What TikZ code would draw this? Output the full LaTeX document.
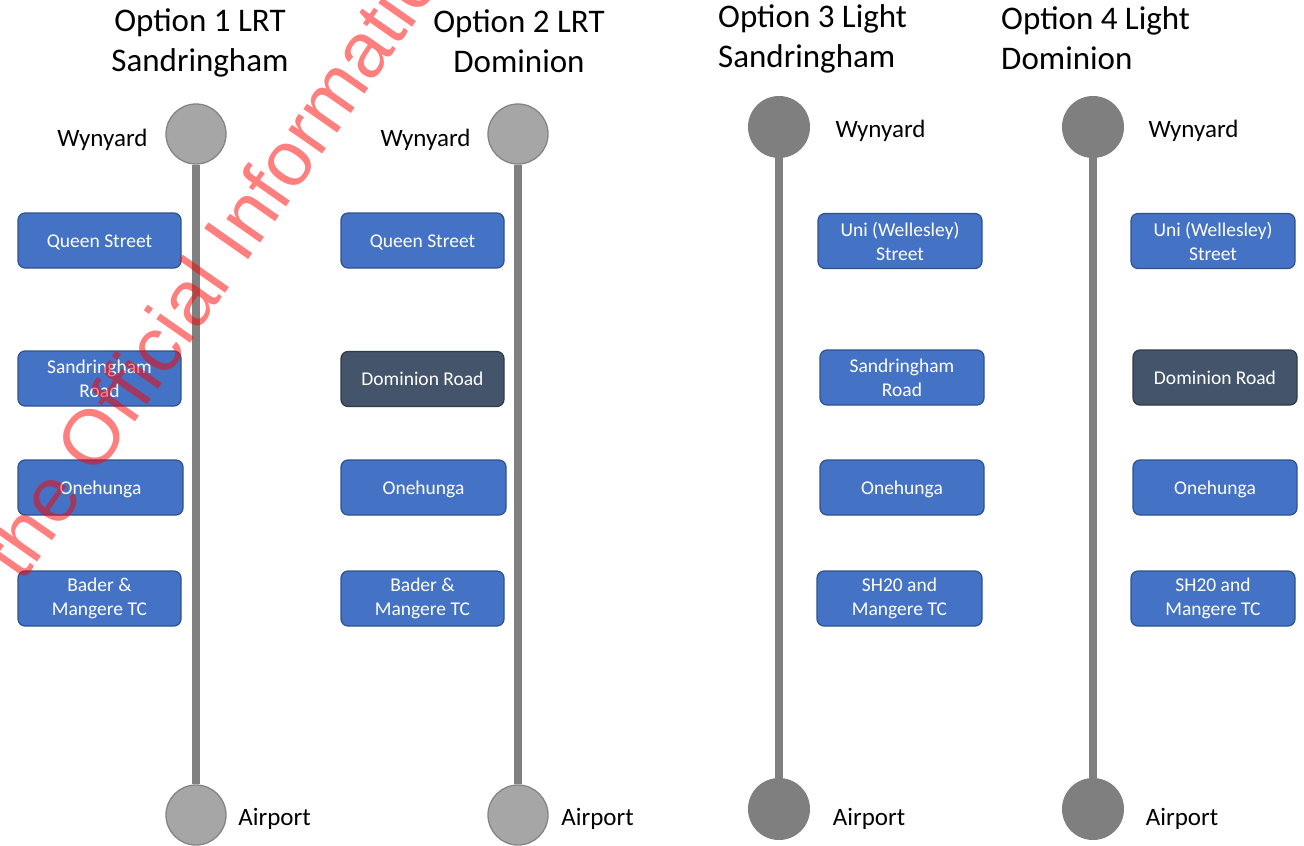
\documentclass[tikz,border=0pt]{standalone}
\usepackage{fontspec}
\setmainfont{Carlito}
\newfontfamily\markfont{Liberation Sans}
\definecolor{stationblue}{HTML}{4472C4}
\definecolor{stationblueedge}{HTML}{2F528F}
\definecolor{stationdark}{HTML}{44546A}
\definecolor{stationdarkedge}{HTML}{2E3A4A}
\definecolor{termlight}{HTML}{A6A6A6}
\definecolor{termlightedge}{HTML}{858585}
\definecolor{termdark}{HTML}{7F7F7F}
\definecolor{trackgrey}{HTML}{808080}
\tikzset{
  stationbox/.style={draw=stationblueedge, fill=stationblue, line width=1.2pt,
    rounded corners=7pt, minimum height=55pt, inner sep=2pt, align=center,
    text=white, font=\fontsize{19.5}{24}\selectfont},
  oneline/.style={text height=15pt, text depth=2pt},
  stationdarkbox/.style={stationbox, draw=stationdarkedge, fill=stationdark},
  termlightdot/.style={circle, draw=termlightedge, fill=termlight, line width=1.3pt,
    minimum size=60pt, inner sep=0pt},
  termdarkdot/.style={circle, draw=termdark, fill=termdark, line width=1pt,
    minimum size=61pt, inner sep=0pt},
  track/.style={draw=trackgrey, line width=8pt},
  endlabel/.style={font=\fontsize{25}{30}\selectfont, inner sep=0pt},
  optiontitle/.style={font=\fontsize{33}{40}\selectfont, inner sep=0pt},
  watermark/.style={font=\markfont\fontsize{78}{80}\selectfont, text=red,
    text opacity=0.5, inner sep=0pt}
}
\begin{document}
\begin{tikzpicture}[x=1pt, y=-1pt]
\useasboundingbox (0,0) rectangle (1304,846);
\clip (0,0) rectangle (1304,846);
\fill[white] (0,0) rectangle (1304,846);

% titles
\node[optiontitle, align=center] (t1) at (200,43) {Option 1 LRT\\Sandringham};
\node[optiontitle, align=center] (t2) at (519,41) {Option 2 LRT\\Dominion};
\node[optiontitle, align=left, anchor=west] (t3) at (718,38.5) {Option 3 Light\\Sandringham};
\node[optiontitle, align=left, anchor=west] (t4) at (1001,38.5) {Option 4 Light\\Dominion};

% termini
\node[termlightdot] (w1) at (196,134) {};
\node[termlightdot] (a1) at (196,815) {};
\node[termlightdot] (w2) at (518,134) {};
\node[termlightdot] (a2) at (518,815) {};
\node[termdarkdot] (w3) at (779,127) {};
\node[termdarkdot] (a3) at (779,809) {};
\node[termdarkdot] (w4) at (1093,127) {};
\node[termdarkdot] (a4) at (1093,809) {};

% tracks between the termini
\draw[track] (w1.south) -- (a1.north);
\draw[track] (w2.south) -- (a2.north);
\draw[track] (w3.south) -- (a3.north);
\draw[track] (w4.south) -- (a4.north);

% terminus labels
\node[endlabel] (lw1) at (102.5,140) {Wynyard};
\node[endlabel] (lw2) at (425.5,140) {Wynyard};
\node[endlabel] (lw3) at (880.5,131) {Wynyard};
\node[endlabel] (lw4) at (1193.5,131) {Wynyard};
\node[endlabel] (la1) at (274.5,819) {Airport};
\node[endlabel] (la2) at (597.5,819) {Airport};
\node[endlabel] (la3) at (869,819) {Airport};
\node[endlabel] (la4) at (1182,819) {Airport};

% option 1 stations
\node[stationbox, oneline, minimum width=163pt] (s11) at (99.5,240.5) {Queen Street};
\node[stationbox, minimum width=163pt] (s12) at (99.5,378.5) {Sandringham\\Road};
\node[stationbox, oneline, minimum width=165pt] (s13) at (100.5,487.5) {Onehunga};
\node[stationbox, minimum width=163pt] (s14) at (99.5,598.5) {Bader \&\\Mangere TC};

% option 2 stations
\node[stationbox, oneline, minimum width=163pt] (s21) at (422.5,240.5) {Queen Street};
\node[stationdarkbox, oneline, minimum width=163pt] (s22) at (422.5,379) {Dominion Road};
\node[stationbox, oneline, minimum width=165pt] (s23) at (423.5,487.5) {Onehunga};
\node[stationbox, minimum width=163pt] (s24) at (422.5,598.5) {Bader \&\\Mangere TC};

% option 3 stations
\node[stationbox, minimum width=164pt] (s31) at (900,241) {Uni (Wellesley)\\Street};
\node[stationbox, minimum width=164pt] (s32) at (902,377.5) {Sandringham\\Road};
\node[stationbox, oneline, minimum width=164pt] (s33) at (902,487.5) {Onehunga};
\node[stationbox, minimum width=165pt] (s34) at (899.5,598.5) {SH20 and\\Mangere TC};

% option 4 stations
\node[stationbox, minimum width=164pt] (s41) at (1213,241) {Uni (Wellesley)\\Street};
\node[stationdarkbox, oneline, minimum width=164pt] (s42) at (1215,377.5) {Dominion Road};
\node[stationbox, oneline, minimum width=164pt] (s43) at (1215,487.5) {Onehunga};
\node[stationbox, minimum width=164pt] (s44) at (1213,598.5) {SH20 and\\Mangere TC};

% release stamp across the first option
\node[watermark, anchor=base west, rotate=55] (stamp) at (21.9,584) {the Official Information};
\end{tikzpicture}
\end{document}
